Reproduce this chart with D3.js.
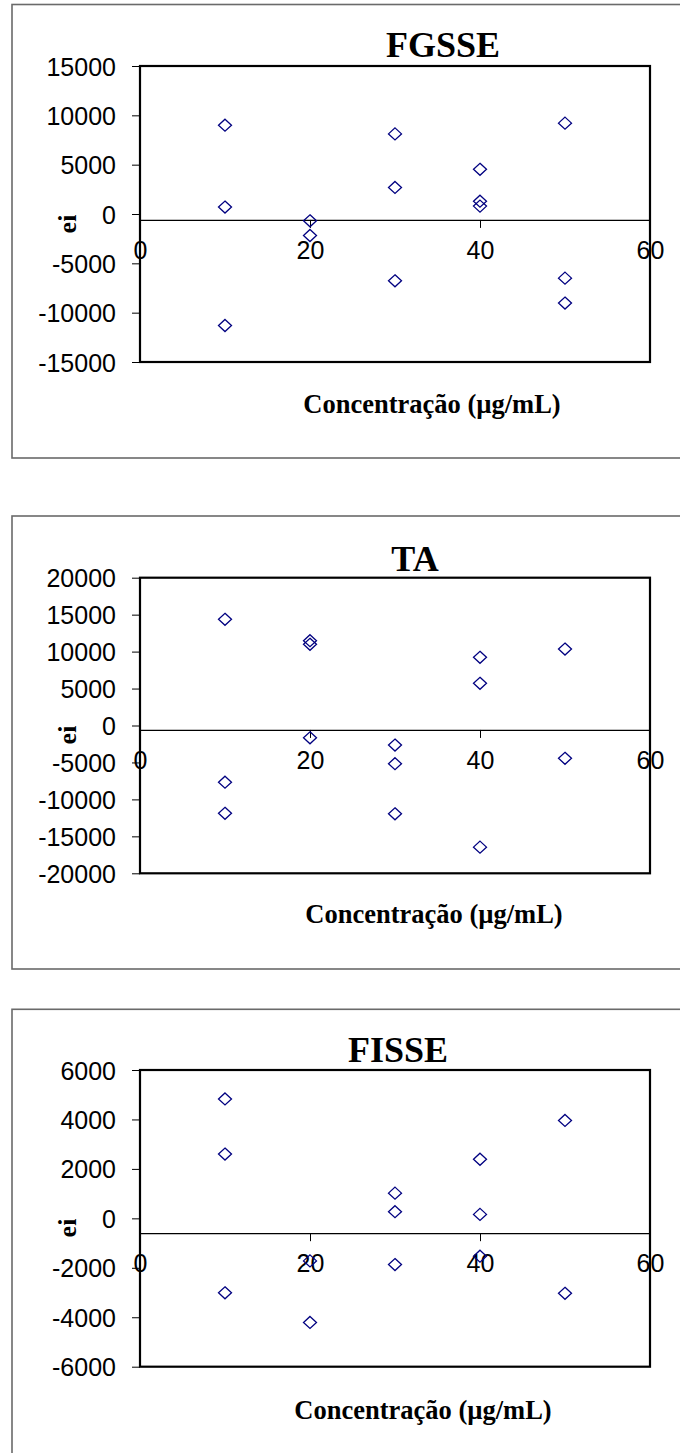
<!DOCTYPE html>
<html>
<head>
<meta charset="utf-8">
<script src="https://cdn.jsdelivr.net/npm/d3@7"></script>
<style>
  html, body { margin: 0; padding: 0; background: #fff; }
  svg { display: block; }
</style>
</head>
<body>
<svg id="chart" width="680" height="1453"></svg>
<script>
// Residuals (ei) against concentration for three samples
const xTicks = [0, 20, 40, 60];

const fgsseX = [10, 10, 10, 20, 20, 30, 30, 30, 40, 40, 40, 50, 50, 50];
const fgsseY = [9000, 700, -11300, -690, -2180, 8120, 2690, -6770, 4530, 1300, 800, 9210, -6500, -9030];
const fgsseTicks = [-15000, -10000, -5000, 0, 5000, 10000, 15000];

const taX = [10, 10, 10, 20, 20, 20, 30, 30, 30, 40, 40, 40, 50, 50];
const taY = [14370, -7670, -11880, 11470, 10990, -1670, -2640, -5170, -11950, 9230, 5710, -16460, 10350, -4440];
const taTicks = [-20000, -15000, -10000, -5000, 0, 5000, 10000, 15000, 20000];

const fisseX = [10, 10, 10, 20, 20, 30, 30, 30, 40, 40, 40, 50, 50];
const fisseY = [4830, 2600, -3010, -1720, -4210, 1020, 270, -1870, 2390, 160, -1530, 3960, -3030];
const fisseTicks = [-6000, -4000, -2000, 0, 2000, 4000, 6000];

// value at which the horizontal (x) axis crosses the vertical axis
const axisCross = -600;

const panels = [
  { title: "FGSSE", xs: fgsseX, ys: fgsseY, ticks: fgsseTicks,
    frameTop: 4.5, frameBottom: 458, top: 66, bottom: 362,
    titleX: 443, titleY: 57, eiY: 224, xTitleX: 432, xTitleY: 413 },
  { title: "TA", xs: taX, ys: taY, ticks: taTicks,
    frameTop: 516, frameBottom: 969, top: 577.7, bottom: 873.3,
    titleX: 415, titleY: 570.7, eiY: 735, xTitleX: 434, xTitleY: 922.7 },
  { title: "FISSE", xs: fisseX, ys: fisseY, ticks: fisseTicks,
    frameTop: 1009.3, frameBottom: 1470, top: 1070, bottom: 1366.7,
    titleX: 398, titleY: 1061.7, eiY: 1228, xTitleX: 423, xTitleY: 1419.3 }
];

const svg = d3.select("#chart");
const plotLeft = 140, plotRight = 650;
const sansFont = "'Liberation Sans', Arial, sans-serif";
const serifFont = "'Liberation Serif', 'Times New Roman', serif";
// plain hyphen for negative numbers
const plainNum = d => String(d);

// hollow diamond marker, slightly wider than tall
const diamond = (cx, cy) => {
  const hw = 6.5, hh = 6;
  const p = d3.path();
  p.moveTo(cx, cy - hh);
  p.lineTo(cx + hw, cy);
  p.lineTo(cx, cy + hh);
  p.lineTo(cx - hw, cy);
  p.closePath();
  return p.toString();
};

panels.forEach(pn => {
  const g = svg.append("g");

  // outer chart frame
  g.append("rect")
    .attr("x", 12).attr("y", pn.frameTop)
    .attr("width", 700).attr("height", pn.frameBottom - pn.frameTop)
    .attr("fill", "none").attr("stroke", "#6a6a6a").attr("stroke-width", 1.6);

  const x = d3.scaleLinear().domain([0, 60]).range([plotLeft, plotRight]);
  const y = d3.scaleLinear()
    .domain([pn.ticks[0], pn.ticks[pn.ticks.length - 1]])
    .range([pn.bottom, pn.top]);

  // vertical axis
  const yAxis = g.append("g")
    .attr("transform", `translate(${plotLeft},0)`)
    .call(d3.axisLeft(y).tickValues(pn.ticks).tickSize(8).tickPadding(16)
      .tickFormat(plainNum).tickSizeOuter(0));
  yAxis.select(".domain").remove();
  yAxis.selectAll("line").attr("stroke", "#000").attr("stroke-width", 1);
  yAxis.selectAll("text")
    .attr("font-family", sansFont).attr("font-size", 25).attr("fill", "#000")
    .attr("dy", "0.36em");

  // horizontal axis crossing at axisCross
  const yc = y(axisCross);
  const xAxis = g.append("g")
    .attr("transform", `translate(0,${yc})`)
    .call(d3.axisBottom(x).tickValues(xTicks).tickSize(8).tickSizeOuter(0)
      .tickFormat(plainNum));
  xAxis.select(".domain").attr("stroke", "#000").attr("stroke-width", 1.2);
  xAxis.selectAll("line").attr("stroke", "#000").attr("stroke-width", 1);
  xAxis.selectAll("text")
    .attr("font-family", sansFont).attr("font-size", 25).attr("fill", "#000")
    .attr("y", 39).attr("dy", null);

  // plot area border
  g.append("rect")
    .attr("x", plotLeft).attr("y", pn.top)
    .attr("width", plotRight - plotLeft).attr("height", pn.bottom - pn.top)
    .attr("fill", "none").attr("stroke", "#000").attr("stroke-width", 2.2);

  // residual points
  const pts = pn.xs.map((v, i) => ({ x: v, y: pn.ys[i] }));
  g.append("g").selectAll("path")
    .data(pts).join("path")
    .attr("d", d => diamond(x(d.x), y(d.y)))
    .attr("fill", "none").attr("stroke", "#000080").attr("stroke-width", 1.3);

  // titles
  g.append("text")
    .attr("x", pn.titleX).attr("y", pn.titleY)
    .attr("text-anchor", "middle")
    .attr("font-family", serifFont).attr("font-weight", "bold").attr("font-size", 36)
    .text(pn.title);

  g.append("text")
    .attr("transform", `translate(76,${pn.eiY}) rotate(-90)`)
    .attr("text-anchor", "middle")
    .attr("font-family", serifFont).attr("font-weight", "bold").attr("font-size", 26)
    .text("ei");

  g.append("text")
    .attr("x", pn.xTitleX).attr("y", pn.xTitleY)
    .attr("text-anchor", "middle")
    .attr("font-family", serifFont).attr("font-weight", "bold").attr("font-size", 26.5)
    .text("Concentração (µg/mL)");
});
</script>
</body>
</html>
